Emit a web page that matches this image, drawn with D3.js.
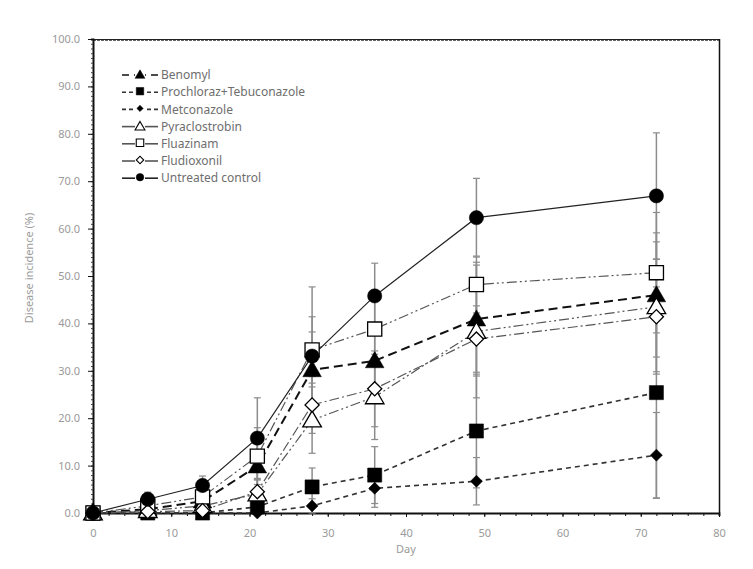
<!DOCTYPE html>
<html>
<head>
<meta charset="utf-8">
<script src="https://cdn.jsdelivr.net/npm/d3@7"></script>
<style>
	body { margin: 0; background: #fff; }
	svg text { font-family: "Noto Sans", "DejaVu Sans", sans-serif; }
</style>
</head>
<body>
<svg id="diseaseChart" width="753" height="569"></svg>
<script>
// ================= data =================
var days = [0, 7, 14, 21, 28, 36, 49, 72];
var seriesNames = ["Benomyl", "Prochloraz+Tebuconazole", "Metconazole", "Pyraclostrobin", "Fluazinam", "Fludioxonil", "Untreated control"];

var benomyl        = [0, 0.8, 2.5, 9.9, 30.2, 32.1, 40.9, 46.0];
var prochloraz     = [0, 0, 0, 1.3, 5.5, 8.0, 17.3, 25.4];
var metconazole    = [0, 0, 0, 0, 1.5, 5.2, 6.7, 12.2];
var pyraclostrobin = [0, 0.5, 1.5, 4.0, 19.6, 24.5, 38.3, 43.5];
var fluazinam      = [0, 1.5, 3.4, 12.0, 34.4, 38.8, 48.2, 50.7];
var fludioxonil    = [0, 0.3, 0.5, 4.5, 22.8, 26.2, 36.7, 41.4];
var untreated      = [0, 2.9, 5.8, 15.8, 33.1, 45.8, 62.3, 66.9];

// error bar half widths
var benomylErr        = [0, 0.8, 1.5, 5, 8, 7, 12, 13.1];
var prochlorazErr     = [0, 0, 0, 1.5, 4, 6, 12, 22.3];
var metconazoleErr    = [0, 0, 0, 0, 1.5, 4, 5, 9];
var pyraclostrobinErr = [0, 0.5, 1.5, 3, 7, 9, 14, 13.7];
var fluazinamErr      = [0, 1.5, 2, 6, 7, 6, 6, 12.7];
var fludioxonilErr    = [0, 0.3, 0.5, 2.5, 6, 8, 7, 12.1];
var untreatedErr      = [0, 1.5, 2, 8.5, 14.6, 6.9, 8.3, 13.3];

var xTicks = [0, 10, 20, 30, 40, 50, 60, 70, 80];
var yTicks = [0, 10, 20, 30, 40, 50, 60, 70, 80, 90, 100];

// ================= styles =================
var seriesValues = [benomyl, prochloraz, metconazole, pyraclostrobin, fluazinam, fludioxonil, untreated];
var seriesErrs = [benomylErr, prochlorazErr, metconazoleErr, pyraclostrobinErr, fluazinamErr, fludioxonilErr, untreatedErr];
// diamonds = squares turned 45 degrees
var symbols = [d3.symbolTriangle, d3.symbolSquare, d3.symbolSquare, d3.symbolTriangle, d3.symbolSquare, d3.symbolSquare, d3.symbolCircle];
var rotated = [false, false, true, false, false, true, false];
var symSize = [150, 200, 72, 150, 200, 100, 160];
var filled = [true, true, true, false, false, false, true];
var dashes = ["9,5", "5,4", "5,4", "10,3,2,3,2,3", "10,3,2,3,2,3", "10,3,2,3", null];
var lineColor = ["#111", "#333", "#333", "#555", "#555", "#555", "#222"];
var lineWidth = [2, 1.6, 1.6, 1.2, 1.2, 1.2, 1.2];
var legendDash = ["7,5", "4,3", "4,3", null, null, null, null];

var data = seriesNames.map(function(name, i) {
	return {
		name: name,
		idx: i,
		points: days.map(function(d, j) {
			return { day: d, value: seriesValues[i][j], err: seriesErrs[i][j] };
		})
	};
});

var svg = d3.select("#diseaseChart");
var plotLeft = 93, plotRight = 719, plotTop = 39, plotBottom = 513;

var x = d3.scaleLinear().domain([0, 80]).range([plotLeft, plotRight]);
var y = d3.scaleLinear().domain([0, 100]).range([plotBottom, plotTop]);

function markerTransform(i, px, py) {
	var dy = symbols[i] === d3.symbolTriangle ? 1.5 : 0;
	return `translate(${px},${py + dy})` + (rotated[i] ? " rotate(45)" : "");
}

// ================= frame + axes =================
// top border (hatched look)
svg.append("line")
	.attr("x1", plotLeft).attr("x2", plotRight)
	.attr("y1", plotTop + 0.5).attr("y2", plotTop + 0.5)
	.attr("stroke", "#222").attr("stroke-width", 1);
svg.append("line")
	.attr("x1", plotLeft).attr("x2", plotRight)
	.attr("y1", plotTop + 1.5).attr("y2", plotTop + 1.5)
	.attr("stroke", "#666").attr("stroke-width", 1)
	.attr("stroke-dasharray", "3,1");

// right border
svg.append("line")
	.attr("x1", plotRight + 0.5).attr("x2", plotRight + 0.5)
	.attr("y1", plotTop).attr("y2", plotBottom)
	.attr("stroke", "#111").attr("stroke-width", 1.5);

// left axis: minor ticks every 1, major every 10
var yAxisMinor = d3.axisLeft(y).tickValues(d3.range(0, 101, 1)).tickSize(2).tickFormat("");
svg.append("g")
	.attr("transform", `translate(${plotLeft},0)`)
	.call(yAxisMinor)
	.call(g => g.selectAll("line").attr("stroke", "#444"))
	.call(g => g.select(".domain").attr("stroke", "#111").attr("stroke-width", 2));

var yAxis = d3.axisLeft(y).tickValues(yTicks).tickSize(5).tickPadding(8).tickFormat(d3.format(".1f"));
svg.append("g")
	.attr("transform", `translate(${plotLeft},0)`)
	.call(yAxis)
	.call(g => g.select(".domain").remove())
	.call(g => g.selectAll("line").attr("stroke", "#111"))
	.call(g => g.selectAll("text")
		.style("font-size", "11px")
		.style("fill", "#9a9a9a"));

// bottom axis: minor every 2 days
var xAxisMinor = d3.axisBottom(x).tickValues(d3.range(0, 81, 2)).tickSize(3).tickFormat("");
svg.append("g")
	.attr("transform", `translate(0,${plotBottom})`)
	.call(xAxisMinor)
	.call(g => g.selectAll("line").attr("stroke", "#111"))
	.call(g => g.select(".domain").attr("stroke", "#111").attr("stroke-width", 2));

var xAxis = d3.axisBottom(x).tickValues(xTicks).tickSize(4).tickPadding(12);
svg.append("g")
	.attr("transform", `translate(0,${plotBottom})`)
	.call(xAxis)
	.call(g => g.select(".domain").remove())
	.call(g => g.selectAll("line").attr("stroke", "#111"))
	.call(g => g.selectAll("text")
		.style("font-size", "11px")
		.style("fill", "#9a9a9a"));

// axis titles
svg.append("text")
	.attr("x", (plotLeft + plotRight) / 2)
	.attr("y", 553)
	.attr("text-anchor", "middle")
	.style("font-size", "11px")
	.style("fill", "#9a9a9a")
	.text("Day");

svg.append("text")
	.attr("transform", `translate(33,${(plotTop + plotBottom) / 2 - 8}) rotate(-90)`)
	.attr("text-anchor", "middle")
	.style("font-size", "11px")
	.style("fill", "#9a9a9a")
	.text("Disease incidence (%)");

// ================= error bars =================
var errG = svg.append("g");
data.forEach(function(s) {
	s.points.forEach(function(p) {
		if (!p.err) return;
		var y1 = y(p.value + p.err), y2 = y(Math.max(0, p.value - p.err));
		errG.append("line")
			.attr("x1", x(p.day)).attr("x2", x(p.day))
			.attr("y1", y1).attr("y2", y2)
			.attr("stroke", "#8c8c8c").attr("stroke-width", 1.5);
		[y1, y2].forEach(function(yy) {
			errG.append("line")
				.attr("x1", x(p.day) - 3.5).attr("x2", x(p.day) + 3.5)
				.attr("y1", yy).attr("y2", yy)
				.attr("stroke", "#8c8c8c").attr("stroke-width", 1.2);
		});
	});
});

// ================= lines =================
var line = d3.line()
	.x(d => x(d.day))
	.y(d => y(d.value));

svg.selectAll(".series-line")
	.data(data)
	.enter()
	.append("path")
	.attr("class", "series-line")
	.attr("d", d => line(d.points))
	.attr("fill", "none")
	.attr("stroke", d => lineColor[d.idx])
	.attr("stroke-width", d => lineWidth[d.idx])
	.attr("stroke-dasharray", d => dashes[d.idx]);

// ================= markers =================
data.forEach(function(s) {
	var sym = d3.symbol().type(symbols[s.idx]).size(symSize[s.idx]);
	svg.append("g").selectAll("path")
		.data(s.points)
		.enter()
		.append("path")
		.attr("transform", d => markerTransform(s.idx, x(d.day), y(d.value)))
		.attr("d", sym)
		.attr("fill", filled[s.idx] ? "#000" : "#fff")
		.attr("stroke", "#000")
		.attr("stroke-width", filled[s.idx] ? 0.5 : 1.3);
});

// ================= legend =================
var legend = svg.append("g").attr("transform", "translate(122,75)");
var legendRow = legend.selectAll(".legend-row")
	.data(data)
	.enter()
	.append("g")
	.attr("class", "legend-row")
	.attr("transform", d => `translate(0,${d.idx * 17.2})`);

// left and right line pieces, drawn outward from the edges
legendRow.append("line")
	.attr("x1", 0).attr("x2", 13)
	.attr("y1", 0).attr("y2", 0)
	.attr("stroke", d => lineColor[d.idx])
	.attr("stroke-width", 1.6)
	.attr("stroke-dasharray", d => legendDash[d.idx]);

legendRow.append("line")
	.attr("x1", 36).attr("x2", 23)
	.attr("y1", 0).attr("y2", 0)
	.attr("stroke", d => lineColor[d.idx])
	.attr("stroke-width", 1.6)
	.attr("stroke-dasharray", d => legendDash[d.idx]);

legendRow.append("path")
	.attr("transform", d => markerTransform(d.idx, 18, -1) )
	.attr("d", d => d3.symbol().type(symbols[d.idx]).size(symSize[d.idx] * 0.28)())
	.attr("fill", d => filled[d.idx] ? "#000" : "#fff")
	.attr("stroke", "#000")
	.attr("stroke-width", d => filled[d.idx] ? 0.5 : 1.1);

legendRow.append("text")
	.attr("x", 39)
	.attr("dy", "0.35em")
	.style("font-size", "12px")
	.style("fill", "#6e6e6e")
	.text(d => d.name);
</script>
</body>
</html>
